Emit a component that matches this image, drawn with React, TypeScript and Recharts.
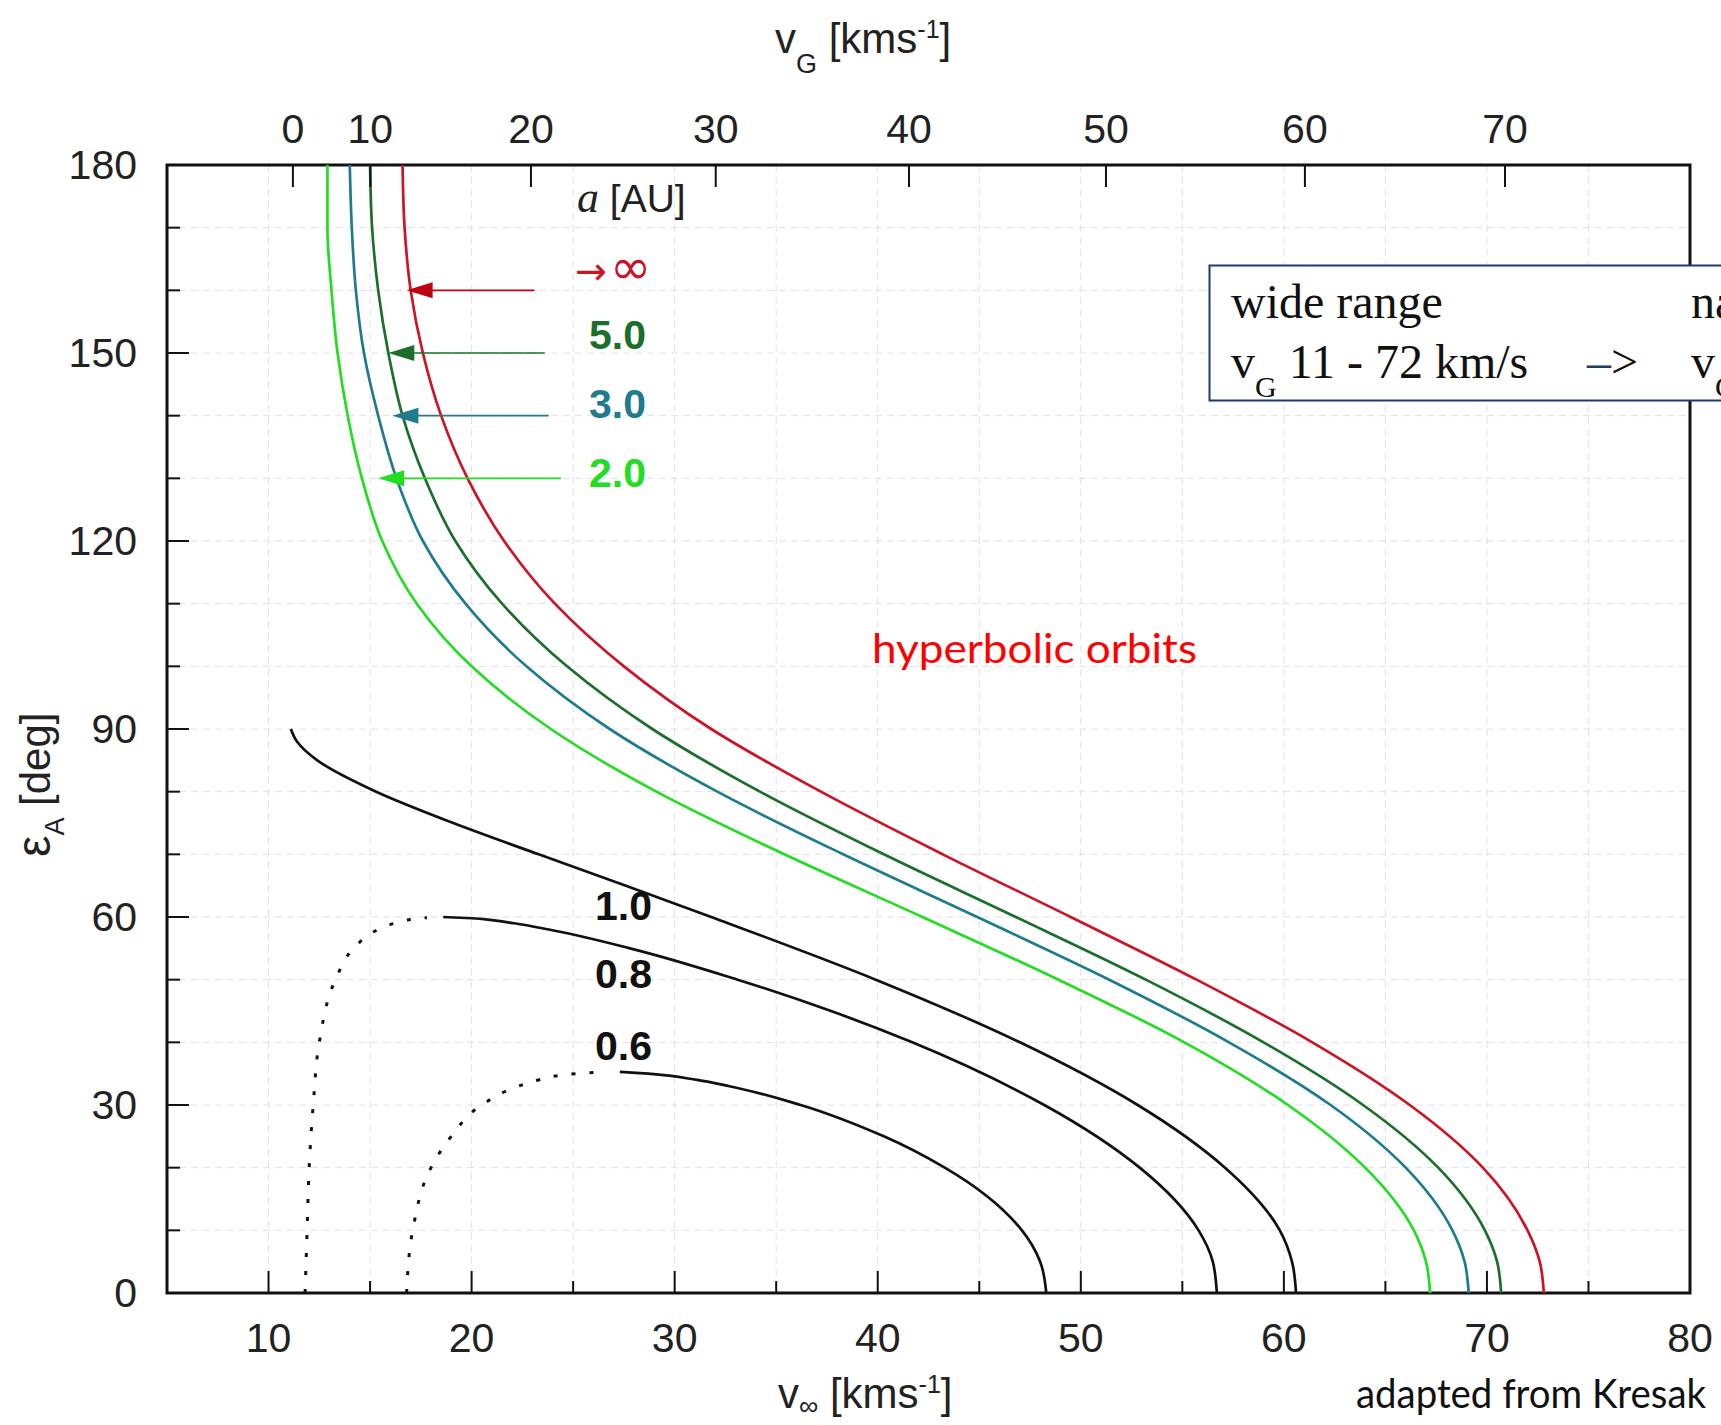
import React from "react";
import {
  CartesianGrid,
  Line,
  LineChart,
  ReferenceArea,
  ReferenceDot,
  ReferenceLine,
  XAxis,
  YAxis,
} from "recharts";

const W = 1721;
const H = 1425;
const SANS = '"Liberation Sans", Arial, sans-serif';
const SERIF = '"Liberation Serif", "Times New Roman", serif';
const HUMAN = 'Lato, "Open Sans", sans-serif';

const RED = "#cc1426";
const DKGREEN = "#1c6f2a";
const TEAL = "#1f7c8e";
const LTGREEN = "#22dd22";
const BLACK = "#111";

// axis ticks
const X_TICKS = [10, 15, 20, 25, 30, 35, 40, 45, 50, 55, 60, 65, 70, 75, 80];
const Y_TICKS = [0, 10, 20, 30, 40, 50, 60, 70, 80, 90, 100, 110, 120, 130, 140, 150, 160, 170, 180];
const VG_TICKS = [0, 10, 20, 30, 40, 50, 60, 70];
// top axis: v_inf = sqrt(vG^2 + 11.2^2)
const VG_TICK_POS = VG_TICKS.map((v) => Math.sqrt(v * v + 11.2 * 11.2));

// hyperbolic / long-period curves: elongation eps vs v_inf
const EPS_HYP = [0, 5, 10, 20, 30, 40, 50, 60, 70, 80, 90, 100, 110, 120, 130, 140, 150, 160, 170, 180];
const V_A_INF = [72.8, 72.6, 72.0, 69.8, 66.2, 61.4, 55.7, 49.5, 43.2, 37.2, 31.8, 27.5, 24.1, 21.6, 19.8, 18.5, 17.6, 17.0, 16.7, 16.6];
const V_A5 = [70.7, 70.5, 69.9, 67.6, 63.9, 59.0, 53.2, 46.8, 40.3, 34.2, 28.9, 24.7, 21.5, 19.2, 17.7, 16.6, 15.9, 15.4, 15.1, 15.0];
const V_A3 = [69.1, 68.9, 68.3, 66.0, 62.3, 57.3, 51.4, 44.9, 38.3, 32.1, 26.8, 22.7, 19.7, 17.6, 16.3, 15.4, 14.7, 14.3, 14.1, 14.0];
const V_A2 = [67.2, 67.0, 66.4, 64.0, 60.2, 55.1, 48.9, 42.2, 35.4, 29.1, 23.9, 20.0, 17.3, 15.6, 14.6, 13.9, 13.4, 13.1, 12.9, 12.9];

// a = 1.0
const EPS_A1 = [0, 5, 10, 20, 30, 40, 50, 60, 65, 70, 75, 80, 85, 88, 90];
const V_A1 = [60.6, 60.4, 59.8, 57.1, 52.8, 47.0, 39.9, 31.8, 27.6, 23.3, 19.1, 15.3, 12.4, 11.4, 11.1];

// a = 0.8 (solid + dotted branch)
const EPS_A08 = [0, 5, 10, 20, 30, 40, 45, 50, 55, 58, 59, 59.5, 59.8, 60];
const V_A08 = [56.7, 56.5, 55.8, 52.9, 48.2, 41.7, 37.7, 33.1, 27.8, 23.8, 22.1, 21.0, 20.0, 18.6];
const EPS_A08_DOT = [0, 10, 20, 30, 40, 50, 55, 58, 59, 59.5, 59.8, 59.9];
const V_A08_DOT = [11.8, 11.9, 12.0, 12.2, 12.5, 13.3, 14.2, 15.4, 16.2, 16.8, 17.4, 17.8];

// a = 0.6 (solid + dotted branch)
const EPS_A06 = [0, 5, 10, 20, 25, 30, 33, 34, 35, 35.3];
const V_A06 = [48.3, 48.0, 47.1, 43.3, 40.3, 36.2, 32.7, 31.1, 28.7, 27.3];
const EPS_A06_DOT = [0, 10, 20, 25, 30, 33, 34, 35, 35.2];
const V_A06_DOT = [16.8, 17.1, 18.0, 19.0, 20.5, 22.3, 23.3, 25.1, 26.0];

// pointer arrows for the a labels
const ARROW_EPS = [160, 150, 140, 130];
const ARROW_TIP = [16.8, 15.9, 16.1, 15.4];
const ARROW_TAIL = [23.1, 23.6, 23.8, 24.4];
const ARROW_COLORS = ["#c00010", DKGREEN, TEAL, LTGREEN];

const pts = (eps: number[], v: number[]) => eps.map((e, i) => ({ v: v[i], e }));

const SERIES = [
  { id: "a2", data: pts(EPS_HYP, V_A2), color: LTGREEN },
  { id: "a3", data: pts(EPS_HYP, V_A3), color: TEAL },
  { id: "a5", data: pts(EPS_HYP, V_A5), color: DKGREEN },
  { id: "ainf", data: pts(EPS_HYP, V_A_INF), color: RED },
  { id: "a1", data: pts(EPS_A1, V_A1), color: BLACK },
  { id: "a08", data: pts(EPS_A08, V_A08), color: BLACK },
  { id: "a06", data: pts(EPS_A06, V_A06), color: BLACK },
];
const DOTTED = [
  { id: "a08d", data: pts(EPS_A08_DOT, V_A08_DOT) },
  { id: "a06d", data: pts(EPS_A06_DOT, V_A06_DOT) },
];

function BottomTick({ x, y, payload }: any) {
  const major = payload.value % 10 === 0;
  return (
    <g>
      <line x1={x} x2={x} y1={y} y2={y - (major ? 22 : 12)} stroke={BLACK} strokeWidth={2} />
      {major && (
        <text x={x} y={y + 59} textAnchor="middle" fontSize={41} fill="#222" fontFamily={SANS}>
          {payload.value}
        </text>
      )}
    </g>
  );
}

function TopTick({ x, y, payload }: any) {
  return (
    <g>
      <line x1={x} x2={x} y1={y} y2={y + 22} stroke={BLACK} strokeWidth={2} />
      <text x={x} y={y - 22} textAnchor="middle" fontSize={41} fill="#222" fontFamily={SANS}>
        {VG_TICKS[payload.index]}
      </text>
    </g>
  );
}

function LeftTick({ x, y, payload }: any) {
  const major = payload.value % 30 === 0;
  return (
    <g>
      <line x1={x} x2={x + (major ? 22 : 13)} y1={y} y2={y} stroke={BLACK} strokeWidth={2} />
      {major && (
        <text x={x - 30} y={y} dy="0.33em" textAnchor="end" fontSize={41} fill="#222" fontFamily={SANS}>
          {payload.value}
        </text>
      )}
    </g>
  );
}

export default function App() {
  return (
    <div style={{ position: "absolute", left: 0, top: 0, width: W, height: H, overflow: "hidden", background: "#fff" }}>
      <LineChart width={W} height={H} margin={{ top: 105, right: 31, bottom: 72, left: 87 }}>
        <CartesianGrid xAxisId="bottom" yAxisId="left" stroke="#e0e0e0" strokeDasharray="7 5" />
        <XAxis
          xAxisId="bottom"
          dataKey="v"
          type="number"
          domain={[5, 80]}
          allowDataOverflow
          ticks={X_TICKS}
          interval={0}
          height={60}
          axisLine={false}
          tickLine={false}
          tickSize={0}
          tickMargin={0}
          tick={<BottomTick />}
        />
        <XAxis
          xAxisId="top"
          orientation="top"
          dataKey="v"
          type="number"
          domain={[5, 80]}
          allowDataOverflow
          ticks={VG_TICK_POS}
          interval={0}
          height={60}
          axisLine={false}
          tickLine={false}
          tickSize={0}
          tickMargin={0}
          tick={<TopTick />}
        />
        <YAxis
          yAxisId="left"
          type="number"
          domain={[0, 180]}
          allowDataOverflow
          ticks={Y_TICKS}
          interval={0}
          width={80}
          axisLine={false}
          tickLine={false}
          tickSize={0}
          tickMargin={0}
          tick={<LeftTick />}
        />
        {SERIES.map((s) => (
          <Line
            key={s.id}
            data={s.data}
            dataKey="e"
            xAxisId="bottom"
            yAxisId="left"
            type="monotoneY"
            stroke={s.color}
            strokeWidth={2.7}
            dot={false}
            isAnimationActive={false}
          />
        ))}
        {DOTTED.map((s) => (
          <Line
            key={s.id}
            data={s.data}
            dataKey="e"
            xAxisId="bottom"
            yAxisId="left"
            type="monotoneY"
            stroke={BLACK}
            strokeWidth={3}
            strokeDasharray="4 14"
            dot={false}
            isAnimationActive={false}
          />
        ))}
        {ARROW_EPS.map((e, i) => (
          <ReferenceLine
            key={"al" + i}
            xAxisId="bottom"
            yAxisId="left"
            segment={[{ x: ARROW_TAIL[i], y: e }, { x: ARROW_TIP[i] + 0.5, y: e }]}
            stroke={ARROW_COLORS[i]}
            strokeWidth={1.6}
            ifOverflow="visible"
          />
        ))}
        {ARROW_EPS.map((e, i) => (
          <ReferenceDot
            key={"ah" + i}
            xAxisId="bottom"
            yAxisId="left"
            x={ARROW_TIP[i]}
            y={e}
            r={1}
            ifOverflow="visible"
            shape={(p: any) => (
              <polygon
                points={`${p.cx},${p.cy} ${p.cx + 26},${p.cy - 8} ${p.cx + 26},${p.cy + 8}`}
                fill={ARROW_COLORS[i]}
              />
            )}
          />
        ))}
        <ReferenceArea
          xAxisId="bottom"
          yAxisId="left"
          x1={5}
          x2={80}
          y1={0}
          y2={180}
          fill="none"
          fillOpacity={0}
          stroke={BLACK}
          strokeWidth={3}
          ifOverflow="visible"
        />
      </LineChart>

      <svg width={W} height={H} style={{ position: "absolute", left: 0, top: 0, pointerEvents: "none" }}>
        {/* axis titles */}
        <text x={775} y={53} fontSize={42} fill="#222" fontFamily={SANS}>
          v<tspan dy={20} fontSize={27}>G</tspan>
          <tspan dy={-20}> [kms</tspan>
          <tspan dy={-15} fontSize={25}>-1</tspan>
          <tspan dy={15}>]</tspan>
        </text>
        <text x={778} y={1408} fontSize={42} fill="#222" fontFamily={SANS}>
          v<tspan dy={7} fontSize={27}>∞</tspan>
          <tspan dy={-7}> [kms</tspan>
          <tspan dy={-15} fontSize={25}>-1</tspan>
          <tspan dy={15}>]</tspan>
        </text>
        <text transform="translate(50,857) rotate(-90)" fontSize={42} fill="#222" fontFamily={SANS}>
          <tspan fontSize={48}>ε</tspan>
          <tspan dy={14} fontSize={27}>A</tspan>
          <tspan dy={-14}> [deg]</tspan>
        </text>

        {/* a labels */}
        <text x={577} y={212} fill="#222">
          <tspan fontFamily={SERIF} fontStyle="italic" fontSize={44}>a</tspan>
          <tspan fontFamily={SANS} fontSize={39}> [AU]</tspan>
        </text>
        <text x={575} y={284} fill={RED} fontFamily='"DejaVu Sans", sans-serif' fontSize={38}>
          →<tspan dx={3} fontSize={50}>∞</tspan>
        </text>
        <text x={589} y={349} fill={DKGREEN} fontFamily={SANS} fontWeight="bold" fontSize={41}>5.0</text>
        <text x={589} y={418} fill={TEAL} fontFamily={SANS} fontWeight="bold" fontSize={41}>3.0</text>
        <text x={589} y={487} fill={LTGREEN} fontFamily={SANS} fontWeight="bold" fontSize={41}>2.0</text>
        <text x={595} y={920} fill={BLACK} fontFamily={SANS} fontWeight="bold" fontSize={41}>1.0</text>
        <text x={595} y={988} fill={BLACK} fontFamily={SANS} fontWeight="bold" fontSize={41}>0.8</text>
        <text x={595} y={1060} fill={BLACK} fontFamily={SANS} fontWeight="bold" fontSize={41}>0.6</text>

        <text x={872} y={663} fill="#ff0000" fontFamily={HUMAN} fontSize={40} textLength={325} lengthAdjust="spacingAndGlyphs">
          hyperbolic orbits
        </text>
        <text x={1356} y={1408} fill={BLACK} fontFamily={HUMAN} fontSize={40} textLength={350} lengthAdjust="spacingAndGlyphs">
          adapted from Kresak
        </text>

        {/* callout box (cut off by the right edge, as in the source) */}
        <rect x={1209.5} y={265.5} width={600} height={135} fill="#fff" stroke="#1f3a6e" strokeWidth={2} />
        <text x={1231} y={318} fontFamily={SERIF} fontSize={48} fill={BLACK}>wide range</text>
        <text x={1691} y={318} fontFamily={SERIF} fontSize={48} fill={BLACK}>narrow range</text>
        <text x={1231} y={378} fontFamily={SERIF} fontSize={48} fill={BLACK}>
          v<tspan dy={19} fontSize={30}>G</tspan>
          <tspan dy={-19}> 11 - 72 km/s</tspan>
        </text>
        <text x={1587} y={378} fontFamily={SERIF} fontSize={48} fill={BLACK}>
          <tspan fill="#1f3a6e">–</tspan>&gt;
        </text>
        <text x={1691} y={378} fontFamily={SERIF} fontSize={48} fill={BLACK}>
          v<tspan dy={19} fontSize={30}>G</tspan>
        </text>
      </svg>
    </div>
  );
}
